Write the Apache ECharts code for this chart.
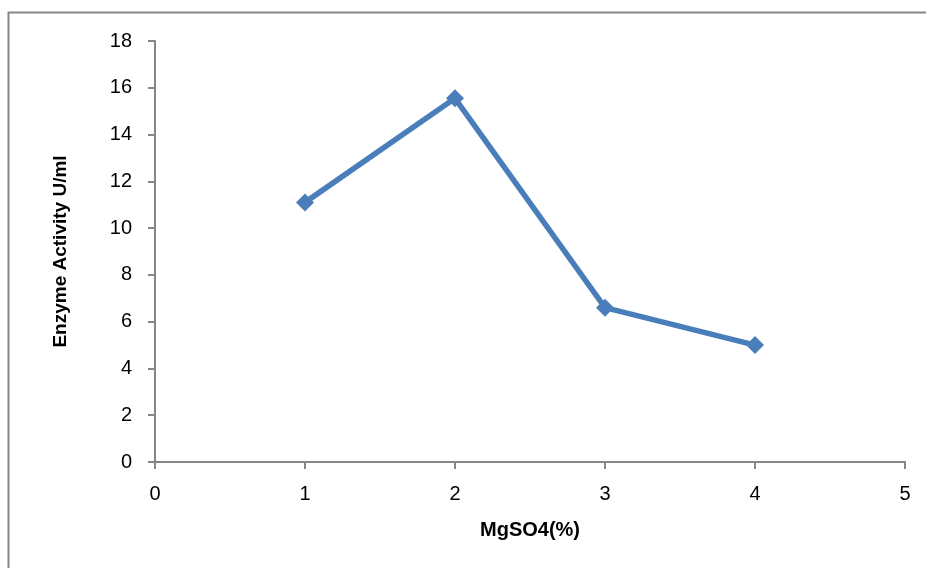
<!DOCTYPE html>
<html>
<head>
<meta charset="utf-8">
<script src="https://cdn.jsdelivr.net/npm/echarts@6/dist/echarts.min.js"></script>
<style>
  html, body { margin: 0; padding: 0; background: #fff; }
  #chart { width: 926px; height: 568px; }
</style>
</head>
<body>
<div id="chart"></div>
<script>
// MgSO4 concentration (%) vs enzyme activity
const mgso4 = [1, 2, 3, 4]
const activity = [11.1, 15.55, 6.6, 5.0]

const xTicks = { min: 0, max: 5, step: 1 }
const yTicks = { min: 0, max: 18, step: 2 }

const chart = echarts.init(document.getElementById('chart'))
const axisGray = '#868686'
const font = 'Liberation Sans, Arial, sans-serif'

const option = {
  animation: false,
  backgroundColor: '#fff',
  graphic: [{
    type: 'rect',
    shape: { x: 8.5, y: 12.5, width: 1000, height: 1000 },
    style: { fill: 'none', stroke: axisGray, lineWidth: 2 },
    silent: true
  }],
  grid: { left: 155, right: 21, top: 41, bottom: 106 },
  xAxis: {
    type: 'value',
    min: xTicks.min,
    max: xTicks.max,
    interval: xTicks.step,
    name: 'MgSO4(%)',
    nameLocation: 'middle',
    nameGap: 58,
    nameTextStyle: { fontFamily: font, fontSize: 20, fontWeight: 'bold', color: '#000' },
    axisLine: { lineStyle: { color: axisGray, width: 2 } },
    axisTick: { show: true, length: 7, lineStyle: { color: axisGray, width: 2 } },
    axisLabel: { fontFamily: font, fontSize: 20, color: '#000', margin: 22 },
    splitLine: { show: false }
  },
  yAxis: {
    type: 'value',
    min: yTicks.min,
    max: yTicks.max,
    interval: yTicks.step,
    name: 'Enzyme Activity U/ml',
    nameLocation: 'middle',
    nameGap: 85,
    nameTextStyle: { fontFamily: font, fontSize: 19, fontWeight: 'bold', color: '#000' },
    axisLine: { show: true, lineStyle: { color: axisGray, width: 2 } },
    axisTick: { show: true, length: 7, lineStyle: { color: axisGray, width: 2 } },
    axisLabel: { fontFamily: font, fontSize: 20, color: '#000', margin: 23 },
    splitLine: { show: false }
  },
  series: [{
    type: 'line',
    data: mgso4.map((x, i) => [x, activity[i]]),
    symbol: 'diamond',
    symbolSize: 18,
    lineStyle: { color: '#4a7ebb', width: 5.5 },
    itemStyle: { color: '#4a7ebb' }
  }]
}
chart.setOption(option)
</script>
</body>
</html>
